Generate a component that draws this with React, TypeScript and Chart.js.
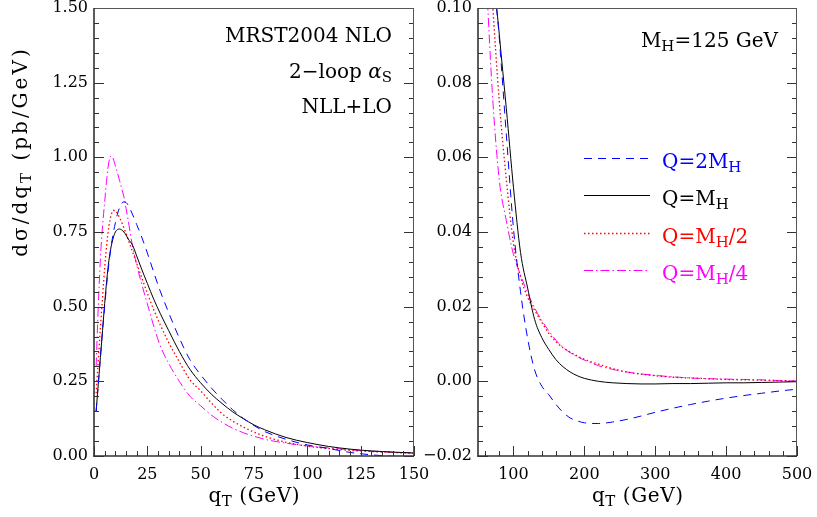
import React, { useEffect, useRef } from "react";
import { Chart, registerables } from "chart.js";

Chart.register(...registerables);

const SERIF = '"DejaVu Serif", "Liberation Serif", serif';

// ---------- Left panel data (q_T in GeV, dσ/dq_T in pb/GeV) ----------
const Q_LEFT = [1, 2, 3, 4, 5, 6, 7, 8, 9, 10, 11, 12, 13, 14, 15, 16, 18, 20, 22, 25, 28, 31, 35, 40, 45, 50, 55, 60, 65, 70, 75, 80, 90, 100, 110, 120, 130, 140, 150];
const LEFT_2MH = [0.15, 0.24, 0.33, 0.42, 0.5, 0.58, 0.645, 0.7, 0.745, 0.78, 0.81, 0.832, 0.846, 0.851, 0.849, 0.84, 0.81, 0.775, 0.74, 0.68, 0.615, 0.553, 0.48, 0.395, 0.322, 0.272, 0.228, 0.19, 0.155, 0.126, 0.102, 0.082, 0.056, 0.037, 0.025, 0.012, 0.004, -0.001, -0.003];
const LEFT_MH = [0.15, 0.24, 0.33, 0.42, 0.51, 0.59, 0.655, 0.7, 0.73, 0.75, 0.758, 0.76, 0.757, 0.75, 0.74, 0.727, 0.707, 0.67, 0.632, 0.578, 0.525, 0.478, 0.42, 0.35, 0.29, 0.245, 0.207, 0.176, 0.148, 0.125, 0.104, 0.088, 0.062, 0.045, 0.032, 0.023, 0.017, 0.013, 0.01];
const LEFT_MH2 = [0.21, 0.32, 0.43, 0.53, 0.63, 0.71, 0.77, 0.805, 0.822, 0.822, 0.812, 0.798, 0.782, 0.764, 0.745, 0.725, 0.685, 0.645, 0.605, 0.545, 0.49, 0.44, 0.38, 0.315, 0.255, 0.218, 0.178, 0.142, 0.117, 0.097, 0.08, 0.066, 0.046, 0.033, 0.025, 0.019, 0.015, 0.012, 0.009];
const LEFT_MH4 = [0.3, 0.5, 0.66, 0.77, 0.85, 0.93, 0.985, 1.005, 0.995, 0.972, 0.948, 0.922, 0.895, 0.868, 0.83, 0.79, 0.705, 0.64, 0.585, 0.51, 0.435, 0.37, 0.31, 0.25, 0.2, 0.168, 0.137, 0.113, 0.093, 0.078, 0.066, 0.056, 0.043, 0.034, 0.027, 0.021, 0.016, 0.013, 0.01];

// ---------- Right panel data ----------
const Q_RIGHT = [60, 70, 80, 90, 100, 110, 120, 130, 140, 150, 160, 170, 180, 190, 200, 220, 240, 260, 280, 300, 325, 350, 375, 400, 425, 450, 475, 500];
const RIGHT_2MH = [0.16, 0.115, 0.092, 0.066, 0.041, 0.024, 0.0115, 0.003, -0.0013, -0.0036, -0.0062, -0.0083, -0.0098, -0.0106, -0.0111, -0.0113, -0.0109, -0.0102, -0.0093, -0.0083, -0.0072, -0.0062, -0.0053, -0.0045, -0.0038, -0.0032, -0.0026, -0.0021];
const RIGHT_MH = [0.16, 0.115, 0.093, 0.073, 0.052, 0.0345, 0.025, 0.0165, 0.0117, 0.0085, 0.0058, 0.0039, 0.0025, 0.0015, 0.0008, 0.0, -0.0004, -0.0006, -0.0007, -0.0007, -0.0006, -0.0006, -0.0005, -0.0004, -0.0004, -0.0003, -0.0002, -0.0001];
const RIGHT_MH2 = [0.135, 0.103, 0.075, 0.054, 0.037, 0.028, 0.0225, 0.019, 0.0158, 0.0128, 0.0106, 0.009, 0.0078, 0.0068, 0.0059, 0.0046, 0.0034, 0.0025, 0.0019, 0.0015, 0.0011, 0.0009, 0.0007, 0.0005, 0.0004, 0.0003, 0.0002, 0.0001];
const RIGHT_MH4 = [0.115, 0.078, 0.054, 0.043, 0.034, 0.0285, 0.0237, 0.0196, 0.0163, 0.0135, 0.011, 0.0091, 0.0077, 0.0066, 0.0057, 0.0042, 0.0032, 0.0025, 0.002, 0.0016, 0.0012, 0.0009, 0.0007, 0.0006, 0.0005, 0.0004, 0.0002, 0.0001];

// ---------- Tick labels ----------
const LEFT_X_TICKS = [0, 25, 50, 75, 100, 125, 150];
const LEFT_Y_TICKS = [0, 0.25, 0.5, 0.75, 1.0, 1.25, 1.5];
const RIGHT_X_TICKS = [100, 200, 300, 400, 500];
const RIGHT_Y_TICKS = [-0.02, 0, 0.02, 0.04, 0.06, 0.08, 0.1];

// ---------- Series ----------
const SERIES_NAMES = ["Q=2M_H", "Q=M_H", "Q=M_H/2", "Q=M_H/4"];
const SERIES_COLORS = ["#0000ff", "#000000", "#ff0000", "#ff00ff"];
const SERIES_DASHES: number[][] = [[8, 6], [], [1.5, 2.5], [9, 3, 1.5, 3]];
const SERIES_WIDTHS = [1, 1, 1.3, 1];
const LEFT_VALUES = [LEFT_2MH, LEFT_MH, LEFT_MH2, LEFT_MH4];
const RIGHT_VALUES = [RIGHT_2MH, RIGHT_MH, RIGHT_MH2, RIGHT_MH4];

type Part = { t: string; sub?: boolean; it?: boolean };

function parseLabel(s: string): Part[] {
  const parts: Part[] = [];
  let buf = "";
  for (let i = 0; i < s.length; i++) {
    if (s[i] === "_" && i + 1 < s.length) {
      if (buf) parts.push({ t: buf });
      buf = "";
      parts.push({ t: s[i + 1], sub: true });
      i++;
    } else buf += s[i];
  }
  if (buf) parts.push({ t: buf });
  return parts;
}

function drawRich(
  ctx: CanvasRenderingContext2D,
  parts: Part[],
  x: number,
  y: number,
  align: "left" | "right" | "center",
  color: string,
  size: number,
  spacing = 0
) {
  const subSize = Math.round(size * 0.75);
  const font = (p: Part) => `${p.it ? "italic " : ""}${p.sub ? subSize : size}px ${SERIF}`;
  // build glyph list for manual letter spacing
  const glyphs: { ch: string; p: Part; w: number }[] = [];
  parts.forEach((p) => {
    ctx.font = font(p);
    if (spacing === 0) {
      glyphs.push({ ch: p.t, p, w: ctx.measureText(p.t).width });
    } else {
      for (const ch of Array.from(p.t)) glyphs.push({ ch, p, w: ctx.measureText(ch).width + spacing });
    }
  });
  let total = glyphs.reduce((s, g) => s + g.w, 0);
  if (spacing) total -= spacing;
  let cx = align === "left" ? x : align === "right" ? x - total : x - total / 2;
  ctx.fillStyle = color;
  ctx.textAlign = "left";
  ctx.textBaseline = "alphabetic";
  glyphs.forEach((g) => {
    ctx.font = font(g.p);
    ctx.fillText(g.ch, cx, y + (g.p.sub ? size * 0.22 : 0));
    cx += g.w;
  });
}

function framePlugin(xMinorStep: number, yMinorStep: number, xMajor: number[], yMajor: number[], drawTexts: (c: Chart) => void) {
  return {
    id: "frameAndText",
    afterDatasetsDraw(chart: Chart) {
      const ctx = chart.ctx;
      const a = chart.chartArea;
      const xs: any = chart.scales.x;
      const ys: any = chart.scales.y;
      ctx.save();
      ctx.setLineDash([]);
      ctx.strokeStyle = "#333";
      ctx.lineWidth = 1;
      const seg = (x1: number, y1: number, x2: number, y2: number) => {
        ctx.beginPath();
        ctx.moveTo(x1, y1);
        ctx.lineTo(x2, y2);
        ctx.stroke();
      };
      const x0 = Math.ceil(xs.min / xMinorStep - 1e-9);
      const x1 = Math.floor(xs.max / xMinorStep + 1e-9);
      for (let i = x0; i <= x1; i++) {
        const v = i * xMinorStep;
        const px = Math.round(xs.getPixelForValue(v)) + 0.5;
        const major = xMajor.some((m) => Math.abs(m - v) < 1e-9);
        seg(px, a.bottom, px, a.bottom - (major ? 10 : 5));
      }
      const y0 = Math.ceil(ys.min / yMinorStep - 1e-9);
      const y1 = Math.floor(ys.max / yMinorStep + 1e-9);
      for (let i = y0; i <= y1; i++) {
        const v = i * yMinorStep;
        const py = Math.round(ys.getPixelForValue(v)) + 0.5;
        const major = yMajor.some((m) => Math.abs(m - v) < 1e-7);
        const len = major ? 10 : 5;
        seg(a.left, py, a.left + len, py);
        seg(a.right, py, a.right - len, py);
      }
      ctx.strokeStyle = "#555";
      ctx.lineWidth = 1;
      seg(a.left, a.top + 0.5, a.right, a.top + 0.5);
      seg(a.right - 0.5, a.top, a.right - 0.5, a.bottom);
      ctx.strokeStyle = "#333";
      ctx.lineWidth = 1.6;
      seg(a.left, a.top, a.left, a.bottom + 0.8);
      seg(a.left - 0.8, a.bottom, a.right, a.bottom);
      ctx.restore();
    },
    afterDraw(chart: Chart) {
      chart.ctx.save();
      drawTexts(chart);
      chart.ctx.restore();
    },
  };
}

function makeDatasets(qs: number[], values: number[][]) {
  return values.map((vals, i) => ({
    label: SERIES_NAMES[i],
    data: qs.map((q, j) => ({ x: q, y: vals[j] })),
    borderColor: SERIES_COLORS[i],
    borderWidth: SERIES_WIDTHS[i],
    borderDash: SERIES_DASHES[i],
    pointRadius: 0,
    fill: false,
    cubicInterpolationMode: "monotone" as const,
    clip: 0,
  }));
}

const fmtY = (v: number) => {
  const r = Math.round(v * 100) / 100;
  if (Math.abs(r) < 1e-9) return "0.00";
  return r < 0 ? "\u2212" + Math.abs(r).toFixed(2) : r.toFixed(2);
};

function axisOptions(min: number, max: number, ticks: number[], isX: boolean, size: number, fmt: (v: number) => string) {
  return {
    type: "linear" as const,
    min,
    max,
    grid: { display: false, drawTicks: false },
    border: { display: false },
    afterBuildTicks: (s: any) => {
      s.ticks = ticks.map((v) => ({ value: v }));
    },
    afterFit: (s: any) => {
      if (isX) {
        s.height = size;
        s.paddingLeft = 0;
        s.paddingRight = 0;
      } else {
        s.width = size;
        s.paddingTop = 0;
        s.paddingBottom = 0;
      }
    },
    ticks: {
      autoSkip: false,
      maxRotation: 0,
      minRotation: 0,
      padding: isX ? 9 : 6,
      color: "#000",
      font: { family: SERIF, size: 16 },
      callback: (v: any) => fmt(Number(v)),
    },
  };
}

export default function App() {
  const leftRef = useRef<HTMLCanvasElement | null>(null);
  const rightRef = useRef<HTMLCanvasElement | null>(null);

  useEffect(() => {
    if (!leftRef.current || !rightRef.current) return;

    const xTitle: Part[] = [{ t: "q" }, { t: "T", sub: true }, { t: " (GeV)" }];

    const left = new Chart(leftRef.current, {
      type: "line",
      data: { datasets: makeDatasets(Q_LEFT, LEFT_VALUES) as any },
      options: {
        animation: false,
        responsive: false,
        devicePixelRatio: 1,
        layout: { padding: { left: 0, top: 8, right: 26, bottom: 0 } },
        plugins: { legend: { display: false }, tooltip: { enabled: false } },
        scales: {
          x: axisOptions(0, 150, LEFT_X_TICKS, true, 61, (v) => String(v)) as any,
          y: axisOptions(0, 1.5, LEFT_Y_TICKS, false, 94, fmtY) as any,
        },
      },
      plugins: [
        framePlugin(5, 0.05, LEFT_X_TICKS, LEFT_Y_TICKS, (c) => {
          const ctx = c.ctx;
          const a = c.chartArea;
          drawRich(ctx, [{ t: "MRST2004 NLO" }], a.right - 22, a.top + 34, "right", "#000", 20);
          drawRich(ctx, [{ t: "2\u2212loop " }, { t: "\u03b1", it: true }, { t: "S", sub: true }], a.right - 22, a.top + 70, "right", "#000", 20);
          drawRich(ctx, [{ t: "NLL+LO" }], a.right - 22, a.top + 105, "right", "#000", 20);
          drawRich(ctx, xTitle, (a.left + a.right) / 2, a.bottom + 46, "center", "#000", 20, 0.6);
          ctx.save();
          ctx.translate(27, 153);
          ctx.rotate(-Math.PI / 2);
          drawRich(ctx, [{ t: "d\u03c3/dq" }, { t: "T", sub: true }, { t: " (pb/GeV)" }], 0, 0, "center", "#000", 20, 3);
          ctx.restore();
        }) as any,
      ],
    });

    const right = new Chart(rightRef.current, {
      type: "line",
      data: { datasets: makeDatasets(Q_RIGHT, RIGHT_VALUES) as any },
      options: {
        animation: false,
        responsive: false,
        devicePixelRatio: 1,
        layout: { padding: { left: 0, top: 8, right: 20, bottom: 0 } },
        plugins: { legend: { display: false }, tooltip: { enabled: false } },
        scales: {
          x: axisOptions(50, 500, RIGHT_X_TICKS, true, 61, (v) => String(v)) as any,
          y: axisOptions(-0.02, 0.1, RIGHT_Y_TICKS, false, 58, fmtY) as any,
        },
      },
      plugins: [
        framePlugin(20, 0.004, RIGHT_X_TICKS, RIGHT_Y_TICKS, (c) => {
          const ctx = c.ctx;
          const a = c.chartArea;
          drawRich(ctx, [{ t: "M" }, { t: "H", sub: true }, { t: "=125 GeV" }], a.right - 19, a.top + 39, "right", "#000", 20);
          SERIES_NAMES.forEach((name, i) => {
            const ly = Math.round(a.top + 150 + i * 37.4) + 0.5;
            ctx.save();
            ctx.strokeStyle = SERIES_COLORS[i];
            ctx.lineWidth = SERIES_WIDTHS[i];
            ctx.setLineDash(SERIES_DASHES[i]);
            ctx.beginPath();
            ctx.moveTo(a.left + 106, ly);
            ctx.lineTo(a.left + 172, ly);
            ctx.stroke();
            ctx.restore();
            drawRich(ctx, parseLabel(name), a.left + 184, ly + 9, "left", SERIES_COLORS[i], 20);
          });
          drawRich(ctx, xTitle, (a.left + a.right) / 2, a.bottom + 46, "center", "#000", 20, 0.6);
        }) as any,
      ],
    });

    return () => {
      left.destroy();
      right.destroy();
    };
  }, []);

  return (
    <div style={{ position: "fixed", left: 0, top: 0, width: 817, height: 517, background: "#fff" }}>
      <canvas ref={leftRef} width={440} height={517} style={{ position: "absolute", left: 0, top: 0, width: 440, height: 517 }} />
      <canvas ref={rightRef} width={397} height={517} style={{ position: "absolute", left: 420, top: 0, width: 397, height: 517 }} />
    </div>
  );
}
